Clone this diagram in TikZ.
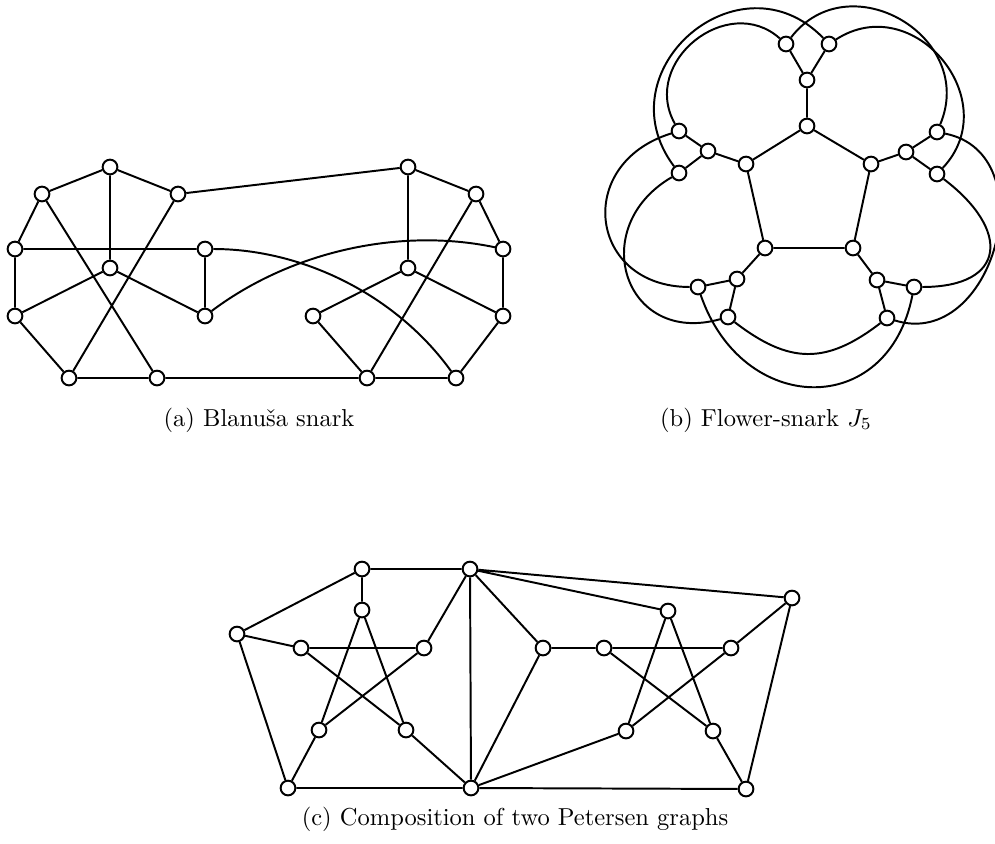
\documentclass[tikz,border=0pt]{standalone}
\usepackage{fontspec}
\usetikzlibrary{backgrounds}
\tikzset{
  vtx/.style={circle, draw, fill=white, line width=0.8pt, minimum size=6pt, inner sep=0pt},
  edg/.style={line width=0.8pt},
  captxt/.style={font=\fontsize{10}{12}\selectfont, inner sep=0pt, anchor=base}
}
\begin{document}
\begin{tikzpicture}[x=0.408pt, y=-0.408pt]
\useasboundingbox (0,0) rectangle (995,844);
% ---------- (a) Blanusa snark ----------
\foreach \n/\x/\y in {A1/110/167, A2/42/194, A3/178/194, A4/15/249, A5/110/268,
  A6/205/249, A7/15/316, A8/205/316, A9/69/378, A10/157/378,
  B1/408/167, B2/476/194, B3/503/249, B4/408/268, B5/313/316,
  B6/503/316, B7/367/378, B8/456/378}
  \node[vtx] (\n) at (\x,\y) {};
% ---------- (b) Flower snark ----------
\foreach \n/\x/\y in {P1/807/126, P2/746/164, P3/871/164, P4/765/248, P5/853/248,
  M1/807/80, O1a/786/44, O1b/829/44,
  M2/708/151, O2a/679/131, O2b/679/173,
  M3/906/152, O3a/937/132, O3b/937/174,
  M4/737/279, O4a/698/287, O4b/728/317,
  M5/877/280, O5a/914/287, O5b/887/318}
  \node[vtx] (\n) at (\x,\y) {};
% ---------- (c) Composition ----------
\foreach \n/\x/\y in {LT/362/569, TM/470/569, LO/237/634, LS1/362/610, LS2/301/648,
  LS3/424/648, LS4/319/730, LS5/406/730, LB/288/788, BM/471/788,
  RL/543/648, RS2/604/648, RS1/668/611, RS3/731/648, RS4/626/731,
  RS5/713/731, RB/746/789, RO/792/598}
  \node[vtx] (\n) at (\x,\y) {};
\begin{scope}[on background layer]
% Blanusa edges
\draw[edg] (A1)--(A2) (A1)--(A3) (A1)--(A5) (A2)--(A4) (A2)--(A10) (A3)--(A9)
      (A4)--(A6) (A4)--(A7) (A5)--(A7) (A5)--(A8) (A6)--(A8) (A7)--(A9)
      (A9)--(A10) (A3)--(B1) (A10)--(B7)
      (B1)--(B2) (B1)--(B4) (B2)--(B3) (B2)--(B7) (B3)--(B6) (B4)--(B5)
      (B4)--(B6) (B5)--(B7) (B6)--(B8) (B7)--(B8);
\draw[edg] (A6) .. controls (305,249) and (398,297) .. (B8);
\draw[edg] (A8) .. controls (290,252) and (399,227) .. (B3);
% Flower snark edges
\draw[edg] (P1)--(P2) (P1)--(P3) (P2)--(P4) (P3)--(P5) (P4)--(P5)
      (P1)--(M1) (P2)--(M2) (P3)--(M3) (P4)--(M4) (P5)--(M5)
      (M1)--(O1a) (M1)--(O1b) (M2)--(O2a) (M2)--(O2b) (M3)--(O3a) (M3)--(O3b)
      (M4)--(O4a) (M4)--(O4b) (M5)--(O5a) (M5)--(O5b);
\draw[edg] (O1b) .. controls (740,-48) and (602,70) .. (O2b);
\draw[edg] (O1a) .. controls (728,-8) and (640,62) .. (O2a);
\draw[edg] (O1a) .. controls (849,-38) and (977,37) .. (O3a);
\draw[edg] (O1b) .. controls (914,-11) and (1006,101) .. (O3b);
\draw[edg] (O3a) .. controls (1047,154) and (993,351) .. (O5b);
\draw[edg] (O3b) .. controls (1011,230) and (1007,287) .. (O5a);
\draw[edg] (O4a) .. controls (742,416) and (888,420) .. (O5a);
\draw[edg] (O4b) .. controls (789,364) and (826,365) .. (O5b);
\draw[edg] (O2a) .. controls (573,164) and (589,287) .. (O4a);
\draw[edg] (O2b) .. controls (586,227) and (624,346) .. (O4b);
% Composition edges
\draw[edg] (LT)--(LO) (LT)--(LS1) (LT)--(TM)
      (LO)--(LS2) (LO)--(LB)
      (LS2)--(LS3) (LS2)--(LS5) (LS1)--(LS4) (LS1)--(LS5) (LS3)--(LS4)
      (LS3)--(TM) (LS4)--(LB) (LS5)--(BM) (LB)--(BM)
      (TM)--(BM) (TM)--(RL) (TM)--(RS1) (TM)--(RO)
      (BM)--(RL) (BM)--(RS4) (BM)--(RB)
      (RL)--(RS2) (RS2)--(RS3) (RS2)--(RS5) (RS1)--(RS4) (RS1)--(RS5)
      (RS3)--(RS4) (RS3)--(RO) (RS5)--(RB) (RB)--(RO);
\end{scope}
% captions
\node[captxt] (capa) at (259,426) {(a) Blanuša snark};
\node[captxt] (capb) at (766,426) {(b) Flower-snark $J_5$};
\node[captxt] (capc) at (515,825) {(c) Composition of two Petersen graphs};
\end{tikzpicture}
\end{document}
